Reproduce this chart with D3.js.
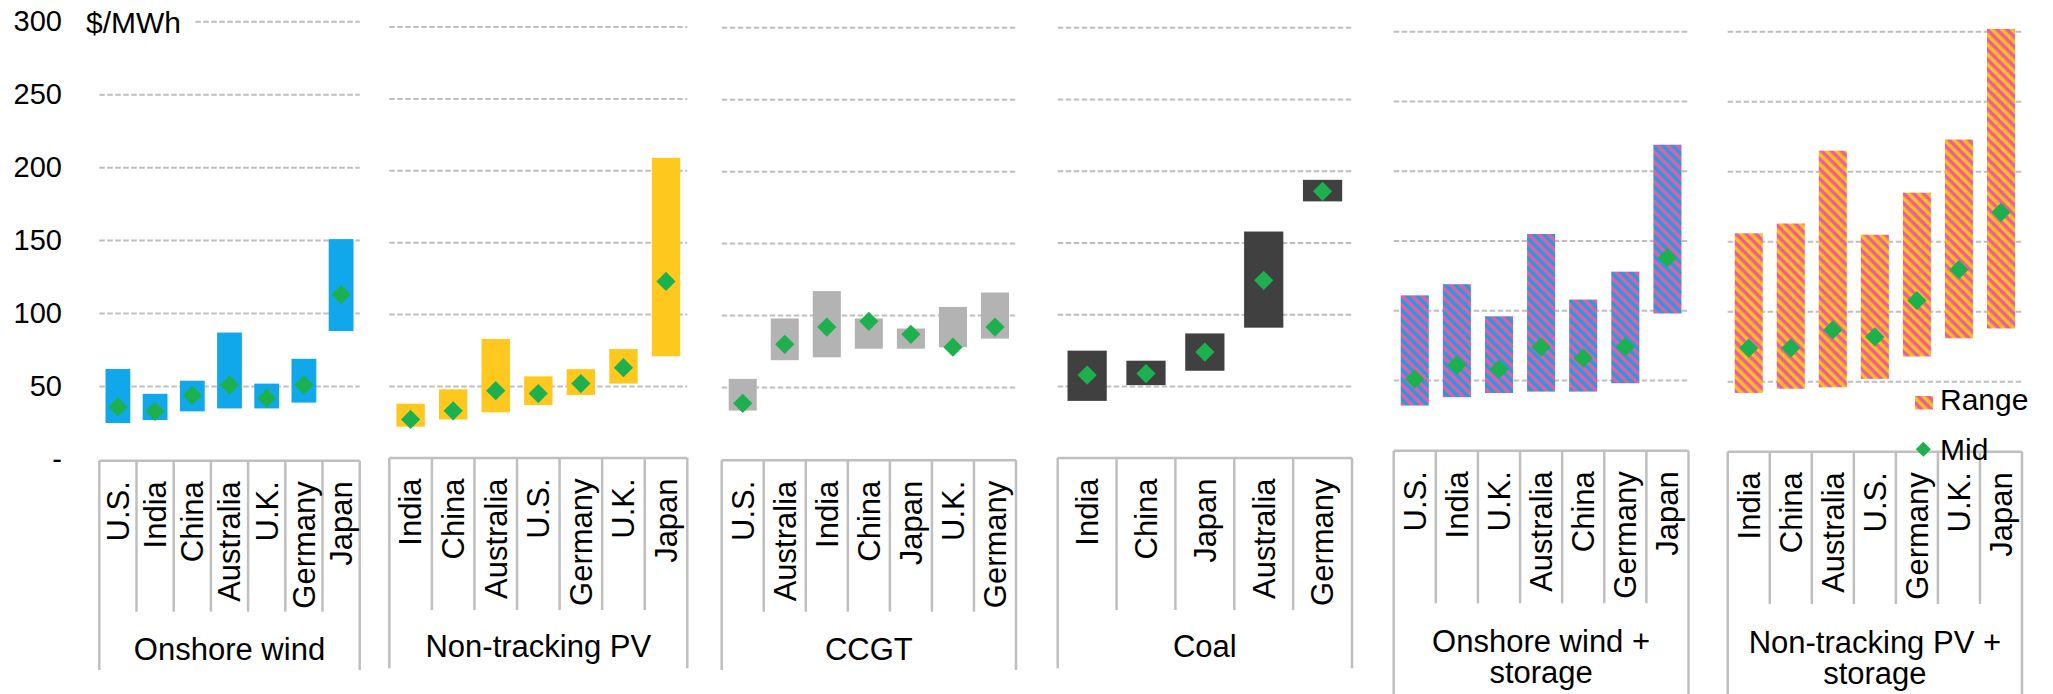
<!DOCTYPE html>
<html lang="en">
<head>
  <meta charset="UTF-8">
  <title>LCOE ranges by technology</title>
  <style>
    body {
      margin: 0;
      background: #fff;
    }
    svg text {
      font-family: 'Liberation Sans', Arial, sans-serif;
      fill: #000;
    }
    .grid line {
      stroke: #bfbfbf;
      stroke-width: 2;
      stroke-dasharray: 5.5 2.5;
    }
    .box line {
      stroke: #bfbfbf;
      stroke-width: 2.5;
    }
  </style>
</head>
<body>
  <svg></svg>
<script src="https://cdn.jsdelivr.net/npm/d3@7/dist/d3.min.js"></script>
<script>
  // values, $/MWh
  var groupNames = ['Onshore wind', 'Non-tracking PV', 'CCGT', 'Coal', 'Onshore wind +|storage', 'Non-tracking PV +|storage']

  var windCountries = ['U.S.', 'India', 'China', 'Australia', 'U.K.', 'Germany', 'Japan']
  var windLow  = [25, 27, 33, 35, 35, 39, 88]
  var windHigh = [62, 45, 54, 87, 52, 69, 151]
  var windMid  = [36, 33, 44, 51, 42, 51, 113]

  var pvCountries = ['India', 'China', 'Australia', 'U.S.', 'Germany', 'U.K.', 'Japan']
  var pvLow  = [22, 27, 32, 37, 44, 52, 71]
  var pvHigh = [38, 48, 83, 57, 62, 76, 209]
  var pvMid  = [27, 33, 47, 45, 52, 63, 123]

  var gasCountries = ['U.S.', 'Australia', 'India', 'China', 'Japan', 'U.K.', 'Germany']
  var gasLow  = [34, 69, 71, 77, 77, 78, 84]
  var gasHigh = [56, 98, 117, 98, 91, 106, 116]
  var gasMid  = [39, 80, 92, 96, 87, 78, 92]

  var coalCountries = ['India', 'China', 'Japan', 'Australia', 'Germany']
  var coalLow  = [40, 51, 61, 91, 179]
  var coalHigh = [75, 68, 87, 158, 194]
  var coalMid  = [58, 59, 74, 124, 186]

  var windStCountries = ['U.S.', 'India', 'U.K.', 'Australia', 'China', 'Germany', 'Japan']
  var windStLow  = [32, 38, 41, 42, 42, 48, 98]
  var windStHigh = [111, 119, 96, 155, 108, 128, 219]
  var windStMid  = [51, 61, 58, 74, 66, 74, 138]

  var pvStCountries = ['India', 'China', 'Australia', 'U.S.', 'Germany', 'U.K.', 'Japan']
  var pvStLow  = [42, 45, 46, 52, 68, 81, 88]
  var pvStHigh = [156, 163, 215, 155, 185, 223, 302]
  var pvStMid  = [74, 74, 87, 82, 108, 130, 171]

  var yTicks = [0, 50, 100, 150, 200, 250, 300]
  var yTickLabels = ['-', '50', '100', '150', '200', '250', '300']
  var unitLabel = '$/MWh'
  var legendLabels = ['Range', 'Mid']

  // layout of the six sub charts (pixels)
  var layout = [
    {x0: 99.3, x1: 359.7, y0: 459.5, y300: 21.7, top: 460.7, div: 611.7, bottom: 670, fill: '#10a8ea'},
    {x0: 389.3, x1: 687.3, y0: 458.3, y300: 27, top: 457.9, div: 610, bottom: 668.3, fill: '#ffc81f'},
    {x0: 721.7, x1: 1016, y0: 459.5, y300: 27.7, top: 460.2, div: 611.7, bottom: 670, fill: '#b3b3b3'},
    {x0: 1057.7, x1: 1352, y0: 458.3, y300: 27.7, top: 457.9, div: 610, bottom: 668.3, fill: '#404040'},
    {x0: 1393.7, x1: 1688.5, y0: 450.2, y300: 31.7, top: 450.7, div: 603.3, bottom: 700, fill: 'url(#stripeWind)'},
    {x0: 1727.7, x1: 2022, y0: 451.7, y300: 31.7, top: 451.7, div: 604, bottom: 700, fill: 'url(#stripePv)'}
  ]

  var series = [
    [windCountries, windLow, windHigh, windMid],
    [pvCountries, pvLow, pvHigh, pvMid],
    [gasCountries, gasLow, gasHigh, gasMid],
    [coalCountries, coalLow, coalHigh, coalMid],
    [windStCountries, windStLow, windStHigh, windStMid],
    [pvStCountries, pvStLow, pvStHigh, pvStMid]
  ]

  var green = '#1db04f'

  var svg = d3.select('svg')
    .attr('width', 2053)
    .attr('height', 694)

  var defs = svg.append('defs')
  function stripes(id, a, b) {
    var p = defs.append('pattern')
      .attr('id', id)
      .attr('width', 7)
      .attr('height', 7)
      .attr('patternUnits', 'userSpaceOnUse')
      .attr('patternTransform', 'rotate(-45)')
    p.append('rect').attr('width', 7).attr('height', 7).attr('fill', a)
    p.append('rect').attr('width', 3.5).attr('height', 7).attr('fill', b)
  }
  stripes('stripeWind', '#eb5aa8', '#1a9fe0')
  stripes('stripePv', '#ee5aa8', '#ffc20e')

  var diamond = d3.symbol().type(d3.symbolSquare).size(185)

  var yFirst

  layout.forEach(function(L, gi) {
    var countries = series[gi][0]
    var low = series[gi][1]
    var high = series[gi][2]
    var mid = series[gi][3]
    var rows = countries.map((c, i) => ({c: c, low: low[i], high: high[i], mid: mid[i]}))

    var x = d3.scaleBand().domain(countries).range([L.x0, L.x1])
      .paddingInner(1/3).paddingOuter(1/6)
    var y = d3.scaleLinear().domain([0, 300]).range([L.y0, L.y300])
    if (gi === 0) yFirst = y
    var step = x.step()

    var g = svg.append('g')

    // dashed gridlines
    g.append('g').attr('class', 'grid')
      .selectAll('line')
      .data(yTicks.slice(1))
      .enter()
      .append('line')
      .attr('x1', L.x0)
      .attr('x2', L.x1)
      .attr('y1', d => y(d))
      .attr('y2', d => y(d))

    // range bars
    g.selectAll('rect.bar')
      .data(rows)
      .enter()
      .append('rect')
      .attr('class', 'bar')
      .attr('x', d => x(d.c))
      .attr('width', x.bandwidth())
      .attr('y', d => y(d.high))
      .attr('height', d => y(d.low) - y(d.high))
      .attr('fill', L.fill)

    // mid points
    g.selectAll('path.mid')
      .data(rows)
      .enter()
      .append('path')
      .attr('class', 'mid')
      .attr('d', diamond)
      .attr('fill', green)
      .attr('transform', d => `translate(${x(d.c) + x.bandwidth() / 2},${y(d.mid)}) rotate(45)`)

    // multi level category box
    var box = g.append('g').attr('class', 'box')
    box.append('line')
      .attr('x1', L.x0).attr('x2', L.x1)
      .attr('y1', L.top).attr('y2', L.top)
    box.selectAll('line.sep')
      .data(d3.range(countries.length + 1))
      .enter()
      .append('line')
      .attr('class', 'sep')
      .attr('x1', i => L.x0 + i * step)
      .attr('x2', i => L.x0 + i * step)
      .attr('y1', L.top)
      .attr('y2', i => (i === 0 || i === countries.length) ? L.bottom : L.div)

    g.selectAll('text.country')
      .data(countries)
      .enter()
      .append('text')
      .attr('class', 'country')
      .attr('font-size', 31)
      .attr('text-anchor', 'end')
      .attr('dy', '0.35em')
      .attr('transform', d => `translate(${x(d) + x.bandwidth() / 2},${L.top + 20.5}) rotate(-90)`)
      .text(d => d)

    var lines = groupNames[gi].split('|')
    var baseY = lines.length > 1 ? L.top + 201 : L.top + 199.5
    g.selectAll('text.group')
      .data(lines)
      .enter()
      .append('text')
      .attr('class', 'group')
      .attr('font-size', 31)
      .attr('text-anchor', 'middle')
      .attr('x', (L.x0 + L.x1) / 2)
      .attr('y', (d, i) => baseY + i * 31.5)
      .text(d => d)
  })

  // value axis on the left
  var axis = svg.append('g')
    .attr('transform', 'translate(62,0)')
    .call(d3.axisLeft(yFirst).tickValues(yTicks).tickSize(0).tickPadding(0)
      .tickFormat((d, i) => yTickLabels[i]))
  axis.select('.domain').remove()
  axis.attr('font-size', 29).attr('font-family', null)
  axis.selectAll('text').attr('fill', '#000')

  svg.append('rect')
    .attr('x', 80).attr('y', 8)
    .attr('width', 115).attr('height', 30)
    .attr('fill', '#fff')
  svg.append('text')
    .attr('x', 86)
    .attr('y', 32.5)
    .attr('font-size', 30)
    .text(unitLabel)

  // legend
  var leg = svg.append('g')
  leg.append('rect')
    .attr('x', 1915).attr('y', 396)
    .attr('width', 18).attr('height', 13.5)
    .attr('fill', 'url(#stripePv)')
  leg.append('path')
    .attr('d', d3.symbol().type(d3.symbolSquare).size(112))
    .attr('fill', green)
    .attr('transform', 'translate(1923.3,449.3) rotate(45)')
  leg.selectAll('text')
    .data(legendLabels)
    .enter()
    .append('text')
    .attr('x', 1940)
    .attr('y', (d, i) => 409.5 + i * 50)
    .attr('font-size', 30)
    .text(d => d)
</script>
</body>
</html>
